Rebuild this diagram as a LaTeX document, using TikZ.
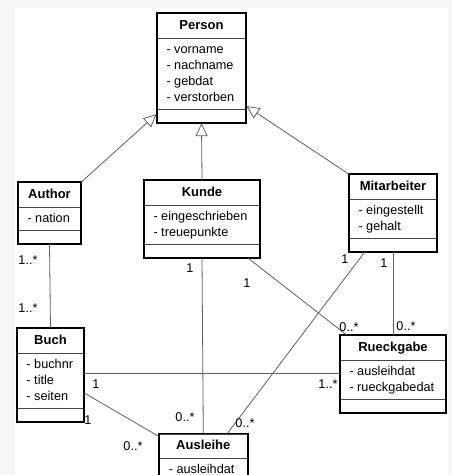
\documentclass[tikz,border=0pt]{standalone}
\usepackage{fontspec}
\setmainfont{Liberation Sans}
\usetikzlibrary{shapes.multipart, arrows.meta, positioning}
\definecolor{margin}{RGB}{245,247,247}
\definecolor{linegray}{RGB}{96,96,96}
\definecolor{sepgray}{RGB}{70,70,70}
\newcommand{\ctitle}[1]{\rule[-5pt]{0pt}{17pt}{\fontsize{13}{16}\selectfont\textbf{#1}}}

\begin{document}
\begin{tikzpicture}[
    x=1pt, y=-1pt,
    font=\fontsize{12.7}{16}\selectfont,
    umlclass/.style={rectangle split, rectangle split parts=3, draw=sepgray, line width=0.7pt, fill=white,
        anchor=north, inner xsep=9.5pt, inner ysep=3.5pt,
        rectangle split part align={center,left,left},
        rectangle split empty part height=3pt, rectangle split empty part depth=0pt},
    frame/.style={draw=black, line width=1.8pt},
    isa/.style={draw=linegray, line width=0.8pt, -{Triangle[open, length=13pt, width=12pt]}},
    assoc/.style={draw=linegray, line width=0.8pt},
    mult/.style={inner sep=0pt}
]
\useasboundingbox (0,0) rectangle (452,475);
\clip (0,0) rectangle (452,475);
\fill[margin] (0,0) rectangle (452,475);
\fill[white] (15,8) rectangle (448,475);

% classes
\node (person) [umlclass, minimum width=89pt] at (201.5,13) {\ctitle{Person}
    \nodepart{two}\begin{tabular}{@{}l@{}}- vorname\\- nachname\\- gebdat\\- verstorben\end{tabular}
    \nodepart{three}};
\node (author) [umlclass, minimum width=63pt] at (49.5,182) {\ctitle{Author}
    \nodepart{two}\begin{tabular}{@{}l@{}}- nation\end{tabular}
    \nodepart{three}};
\node (kunde) [umlclass, minimum width=116pt] at (202,180) {\ctitle{Kunde}
    \nodepart{two}\begin{tabular}{@{}l@{}}- eingeschrieben\\- treuepunkte\end{tabular}
    \nodepart{three}};
\node (mitarbeiter) [umlclass, minimum width=88pt] at (393,174) {\ctitle{Mitarbeiter}
    \nodepart{two}\begin{tabular}{@{}l@{}}- eingestellt\\- gehalt\end{tabular}
    \nodepart{three}};
\node (buch) [umlclass, minimum width=67pt] at (50.5,328) {\ctitle{Buch}
    \nodepart{two}\begin{tabular}{@{}l@{}}- buchnr\\- title\\- seiten\end{tabular}
    \nodepart{three}};
\node (rueckgabe) [umlclass, minimum width=106pt] at (393,335) {\ctitle{Rueckgabe}
    \nodepart{two}\begin{tabular}{@{}l@{}}- ausleihdat\\- rueckgabedat\end{tabular}
    \nodepart{three}};
\node (ausleihe) [umlclass, minimum width=88pt] at (203.3,433.5) {\ctitle{Ausleihe}
    \nodepart{two}\begin{tabular}{@{}l@{}}- ausleihdat\end{tabular}
    \nodepart{three}};

\foreach \c in {person, author, kunde, mitarbeiter, buch, rueckgabe, ausleihe}
    \draw[frame] (\c.north west) rectangle (\c.south east);

% generalisation
\draw[isa] (author.north east) -- ([yshift=9pt]person.south west);
\draw[isa] (kunde.north) -- (person.south);
\draw[isa] (mitarbeiter.north west) -- ([yshift=17pt]person.south east);

% associations
\draw[assoc] (author.south) -- (buch.north);
\draw[assoc] (kunde.south) -- (ausleihe.north);
\draw[assoc] ([xshift=46pt]kunde.south) -- ([xshift=7pt]rueckgabe.north west);
\draw[assoc] ([xshift=16pt]mitarbeiter.south west) -- ([xshift=24pt]ausleihe.north);
\draw[assoc] (mitarbeiter.south) -- (rueckgabe.north);
\draw[assoc] ([yshift=-45pt]buch.north east) -- ([yshift=-45pt]buch.north east -| rueckgabe.west);
\draw[assoc] ([yshift=-65pt]buch.north east) -- ([yshift=-3pt]ausleihe.north west);

% multiplicities
\foreach \x/\y/\t [count=\i] in {28/260/1..*, 28/308/1..*, 190/268/1, 247/283/1,
        349/327/0..*, 345/259/1, 384/263/1, 406/326/0..*, 96/384/1, 328/384/1..*,
        88/420/1, 133/446/0..*, 185/417/0..*, 245/423/0..*}
    \node (m\i) [mult] at (\x,\y) {\t};
\end{tikzpicture}
\end{document}
